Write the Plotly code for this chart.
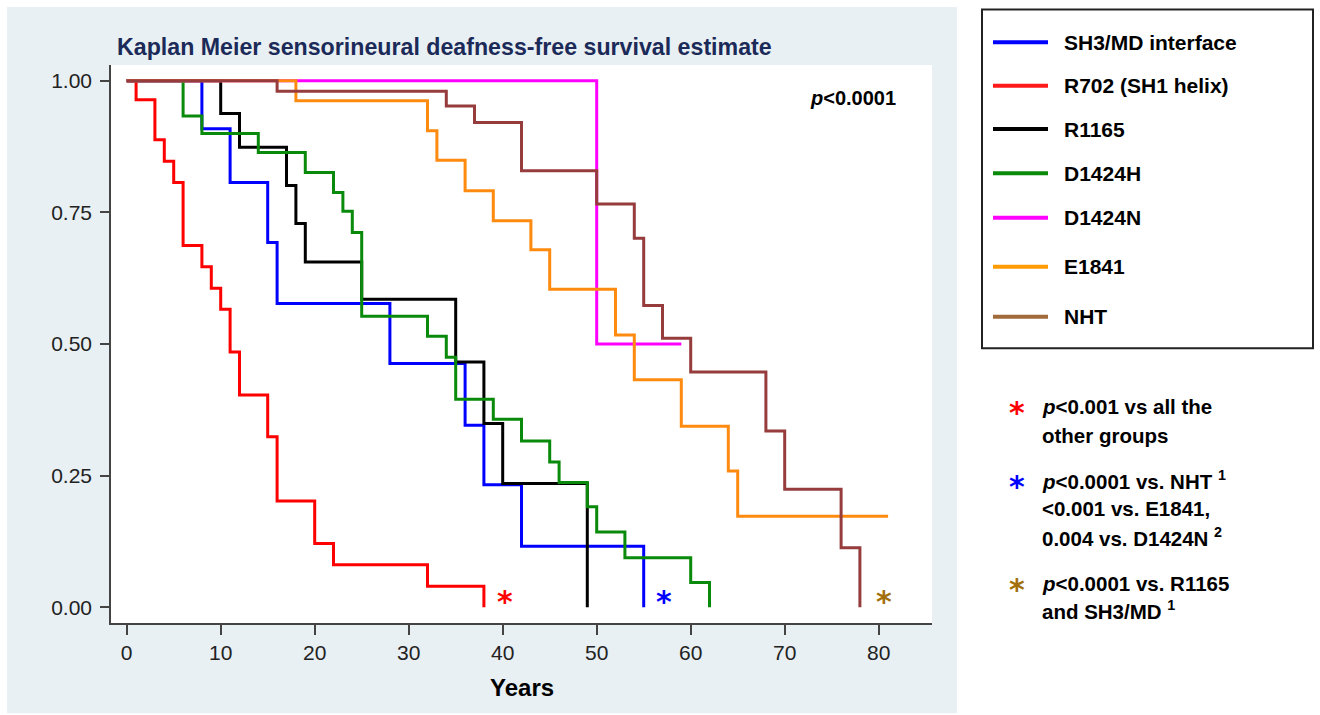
import plotly.graph_objects as go

# ---------------- data ----------------
series_names = ["SH3/MD interface", "R702 (SH1 helix)", "R1165", "D1424H", "D1424N", "E1841", "NHT"]

blue_t = [0, 8, 11, 15, 16, 28, 36, 38, 42, 55]
blue_s = [1, 0.909, 0.807, 0.693, 0.577, 0.463, 0.346, 0.233, 0.116, 0]

red_t = [0, 1, 3, 4, 5, 6, 8, 9, 10, 11, 12, 15, 16, 20, 22, 32, 38]
red_s = [1, 0.964, 0.888, 0.847, 0.807, 0.687, 0.647, 0.606, 0.566, 0.485, 0.403, 0.324, 0.202, 0.121, 0.081, 0.040, 0]

black_t = [0, 10, 12, 17, 18, 19, 25, 35, 38, 40, 49]
black_s = [1, 0.938, 0.874, 0.801, 0.729, 0.656, 0.585, 0.466, 0.349, 0.235, 0]

green_t = [0, 6, 8, 14, 19, 22, 23, 24, 25, 32, 34, 35, 39, 42, 45, 46, 49, 50, 53, 60, 62]
green_s = [1, 0.933, 0.900, 0.864, 0.826, 0.788, 0.752, 0.712, 0.553, 0.515, 0.475, 0.395,
           0.357, 0.316, 0.276, 0.237, 0.191, 0.143, 0.094, 0.047, 0]

magenta_t = [0, 50, 59]
magenta_s = [1, 0.5, 0.5]

orange_t = [0, 18, 32, 33, 36, 39, 43, 45, 52, 54, 59, 64, 65, 81]
orange_s = [1, 0.962, 0.905, 0.849, 0.791, 0.734, 0.679, 0.604, 0.517, 0.432, 0.344, 0.259, 0.173, 0.173]

brown_t = [0, 16, 34, 37, 42, 50, 54, 55, 57, 60, 68, 70, 76, 78]
brown_s = [1, 0.980, 0.952, 0.921, 0.829, 0.766, 0.701, 0.573, 0.511, 0.447, 0.335, 0.224, 0.113, 0]

x_ticks = [0, 10, 20, 30, 40, 50, 60, 70, 80]
y_ticks = [0, 0.25, 0.5, 0.75, 1.0]
y_tick_labels = ["0.00", "0.25", "0.50", "0.75", "1.00"]

# significance asterisks on the plot (years, survival)
star_x = [40.2, 57.2, 80.6]
star_y = [0.02, 0.02, 0.02]

note_lines = [
    ["<i>p</i>&lt;0.001 vs all the", "other groups"],
    ["<i>p</i>&lt;0.0001 vs. NHT <sup>1</sup>", "&lt;0.001 vs. E1841,", "0.004 vs. D1424N <sup>2</sup>"],
    ["<i>p</i>&lt;0.0001 vs. R1165", "and SH3/MD <sup>1</sup>"],
]

# ---------------- style ----------------
line_colors = ["#0000ff", "#ff0000", "#000000", "#0a8a0a", "#ff00ff", "#ff8a10", "#963c3c"]
legend_colors = ["#0000ff", "#ff1a1a", "#000000", "#0a8a0a", "#ff00ff", "#ff9a00", "#a06a3a"]
star_colors = ["#ff0000", "#0000ff", "#a36f0c"]

W, H = 1320, 715
L, R, T, B = 111, 932, 65, 622.7   # plot area in px


def px(xp):
    return (xp - L) / (R - L)


def py(yp):
    return (B - yp) / (B - T)


fig = go.Figure()
all_t = [blue_t, red_t, black_t, green_t, magenta_t, orange_t, brown_t]
all_s = [blue_s, red_s, black_s, green_s, magenta_s, orange_s, brown_s]
for name, t, s, c in zip(series_names, all_t, all_s, line_colors):
    fig.add_trace(go.Scatter(x=t, y=s, mode="lines", name=name,
                             line=dict(color=c, width=3, shape="hv"),
                             showlegend=False))

shapes = []
# panel background (light blue-grey) and white plot area
shapes.append(dict(type="rect", xref="paper", yref="paper", x0=px(7), x1=px(957), y0=py(713), y1=py(7),
                   fillcolor="#e8f0f3", line=dict(width=0), layer="below"))
shapes.append(dict(type="rect", xref="paper", yref="paper", x0=0, x1=1, y0=0, y1=1,
                   fillcolor="#ffffff", line=dict(width=0), layer="below"))
# legend box
shapes.append(dict(type="rect", xref="paper", yref="paper", x0=px(982), x1=px(1313), y0=py(348), y1=py(9.5),
                   fillcolor="#ffffff", line=dict(color="#222222", width=2)))

annotations = []
legend_y_px = [42.3, 85.7, 129, 173.3, 217.7, 266.7, 316.7]
for name, c, yp in zip(series_names, legend_colors, legend_y_px):
    shapes.append(dict(type="line", xref="paper", yref="paper", x0=px(993), x1=px(1048), y0=py(yp), y1=py(yp),
                       line=dict(color=c, width=4)))
    annotations.append(dict(xref="paper", yref="paper", x=px(1062), y=py(yp), text="<b>%s</b>" % name,
                            xanchor="left", yanchor="middle", showarrow=False,
                            font=dict(family="Liberation Sans, Arial", size=21, color="#000000")))

# notes under the legend
note_y_px = [[406.7, 435], [480, 508.3, 536.7], [583.3, 610]]
for lines, ys, sc in zip(note_lines, note_y_px, star_colors):
    annotations.append(dict(xref="paper", yref="paper", x=px(1017), y=py(ys[0] + 6), text="<b>*</b>",
                            xanchor="center", yanchor="middle", showarrow=False,
                            font=dict(family="DejaVu Sans", size=30, color=sc)))
    for ln, yp in zip(lines, ys):
        annotations.append(dict(xref="paper", yref="paper", x=px(1040), y=py(yp), text="<b>%s</b>" % ln,
                                xanchor="left", yanchor="middle", showarrow=False,
                                font=dict(family="Liberation Sans, Arial", size=20.5, color="#000000")))

# asterisks on the plot
for sx, sy, sc in zip(star_x, star_y, star_colors):
    annotations.append(dict(xref="x", yref="y", x=sx, y=sy, text="<b>*</b>", xanchor="center",
                            yanchor="middle", showarrow=False, yshift=-5,
                            font=dict(family="DejaVu Sans", size=30, color=sc)))

# title, p value, axis title
annotations.append(dict(xref="paper", yref="paper", x=px(115), y=py(47),
                        text="<b>Kaplan Meier sensorineural deafness-free survival estimate</b>",
                        xanchor="left", yanchor="middle", showarrow=False,
                        font=dict(family="Liberation Sans, Arial", size=23.2, color="#1b2a58")))
annotations.append(dict(xref="paper", yref="paper", x=px(853), y=py(97.5),
                        text="<b><i>p</i>&lt;0.0001</b>", xanchor="center", yanchor="middle", showarrow=False,
                        font=dict(family="Liberation Sans, Arial", size=20, color="#000000")))
annotations.append(dict(xref="paper", yref="paper", x=0.5, y=py(687),
                        text="<b>Years</b>", xanchor="center", yanchor="middle", showarrow=False,
                        font=dict(family="Liberation Sans, Arial", size=24, color="#000000")))

x0_years = -1.67
x1_years = 85.67
fig.update_layout(
    width=W, height=H,
    margin=dict(l=L, r=W - R, t=T, b=H - B),
    paper_bgcolor="#ffffff", plot_bgcolor="#ffffff",
    shapes=shapes, annotations=annotations,
    xaxis=dict(range=[x0_years, x1_years], tickvals=x_ticks, ticks="outside", ticklen=10, tickwidth=1.5,
               tickcolor="#444444", showline=True, linecolor="#444444", linewidth=1.5, showgrid=False,
               zeroline=False, tickfont=dict(family="Liberation Sans, Arial", size=21, color="#222222")),
    yaxis=dict(range=[-0.0298, 1.030], tickvals=y_ticks, ticktext=y_tick_labels, ticks="outside", ticklen=9,
               tickwidth=1.5, tickcolor="#444444", showline=True, linecolor="#444444", linewidth=1.5,
               showgrid=False, zeroline=False, ticklabelstandoff=4,
               tickfont=dict(family="Liberation Sans, Arial", size=21, color="#222222")),
)

fig.write_html("out.html", config={"displayModeBar": False},
               post_script="document.body.style.margin='0';document.body.style.overflow='hidden';")
